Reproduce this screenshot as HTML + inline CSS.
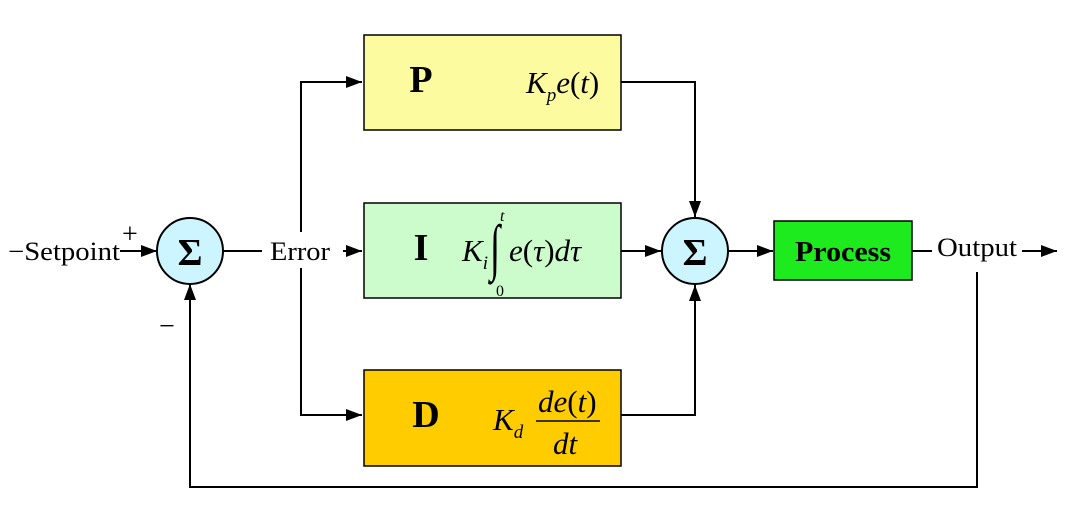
<!DOCTYPE html>
<html><head><meta charset="utf-8"><style>html,body{margin:0;padding:0;background:#fff}svg{display:block}</style></head>
<body>
<svg width="1065" height="508" viewBox="0 0 1065 508" xmlns="http://www.w3.org/2000/svg" font-family="Liberation Serif, serif">
<defs>
<marker id="b" viewBox="0 0 16 12" markerWidth="16" markerHeight="12" refX="16" refY="6" orient="auto" markerUnits="userSpaceOnUse"><path d="M0,0 L16,6 L0,12 z" fill="#000"/></marker></defs>
<g stroke="#000" stroke-width="2" fill="none">
<line x1="120" y1="251" x2="157" y2="251" marker-end="url(#b)"/>
<line x1="223" y1="251" x2="262" y2="251"/>
<line x1="343" y1="251" x2="362" y2="251" marker-end="url(#b)"/>
<polyline points="301,232 301,82 362,82" marker-end="url(#b)"/>
<polyline points="301,268 301,415 362,415" marker-end="url(#b)"/>
<polyline points="621,82 695,82 695,217" marker-end="url(#b)"/>
<line x1="621" y1="251" x2="661" y2="251" marker-end="url(#b)"/>
<polyline points="621,415 695,415 695,285" marker-end="url(#b)"/>
<line x1="729" y1="251" x2="773" y2="251" marker-end="url(#b)"/>
<line x1="912" y1="251" x2="932" y2="251"/>
<line x1="1022" y1="251" x2="1057" y2="251" marker-end="url(#b)"/>
<polyline points="977,272 977,487 190,487 190,284" marker-end="url(#b)"/>
</g>
<rect x="364" y="35" width="257" height="95" fill="#FCFBA0" stroke="#000" stroke-width="1.5"/>
<rect x="364" y="203" width="257" height="95" fill="#CCFCCC" stroke="#000" stroke-width="1.5"/>
<rect x="364" y="370" width="257" height="96" fill="#FFCC00" stroke="#000" stroke-width="1.5"/>
<rect x="774" y="221" width="138" height="59" fill="#1EEB1E" stroke="#000" stroke-width="1.5"/>
<circle cx="190" cy="251" r="33" fill="#CCF5FF" stroke="#000" stroke-width="2"/>
<circle cx="695" cy="251" r="33" fill="#CCF5FF" stroke="#000" stroke-width="2"/>
<g font-size="26" fill="#000">
<text x="8" y="260" textLength="112" lengthAdjust="spacingAndGlyphs">−Setpoint</text>
<text x="122" y="243" font-size="28">+</text>
<text x="159" y="335" font-size="28">−</text>
<text x="270" y="260" textLength="60" lengthAdjust="spacingAndGlyphs">Error</text>
<text x="937" y="256" textLength="80" lengthAdjust="spacingAndGlyphs">Output</text>
</g>
<g font-weight="bold" font-size="38" text-anchor="middle">
<text x="190" y="265">Σ</text><text x="695" y="265">Σ</text>
<text x="421" y="92">P</text><text x="421" y="260">I</text><text x="426" y="427">D</text>
<text x="843" y="261" font-size="28" textLength="96" lengthAdjust="spacingAndGlyphs">Process</text>
</g>
<g font-style="italic" font-size="31">
<text x="526" y="93">K<tspan font-size="19" dy="8">p</tspan><tspan dy="-8">e</tspan><tspan font-style="normal">(</tspan>t<tspan font-style="normal">)</tspan></text>
<text x="462" y="261">K<tspan font-size="19" dy="8">i</tspan></text>
<text x="0" y="0" font-style="normal" font-size="46" transform="translate(490,268) scale(0.8,1.35)">∫</text>
<text x="500" y="221" font-size="16">t</text>
<text x="496" y="296" font-size="16" font-style="normal">0</text>
<text x="509" y="261">e<tspan font-style="normal">(</tspan>τ<tspan font-style="normal">)</tspan>dτ</text>
<text x="493" y="430">K<tspan font-size="19" dy="8">d</tspan></text>
<text x="538" y="412">de<tspan font-style="normal">(</tspan>t<tspan font-style="normal">)</tspan></text>
<line x1="536" y1="421" x2="600" y2="421" stroke="#000" stroke-width="1.5"/>
<text x="553" y="454">dt</text>
</g>
</svg>
</body></html>
